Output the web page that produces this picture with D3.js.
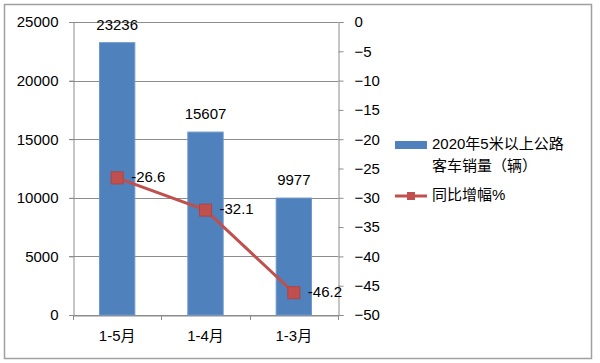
<!DOCTYPE html>
<html><head><meta charset="utf-8">
<script src="https://cdn.jsdelivr.net/npm/d3@7"></script>
<style>
html,body{margin:0;padding:0;background:#fff;}
text{font-family:"Liberation Sans","Noto Sans CJK SC",sans-serif;fill:#000;}
</style>
</head><body>
<svg id="chart" width="600" height="363"></svg>
<script>
const categories = ["1-5月", "1-4月", "1-3月"];
const sales = [23236, 15607, 9977];
const growth = [-26.6, -32.1, -46.2];
const leftTicks = [0, 5000, 10000, 15000, 20000, 25000];
const rightTicks = [0, -5, -10, -15, -20, -25, -30, -35, -40, -45, -50];
const seriesNames = ["2020年5米以上公路", "客车销量（辆）", "同比增幅%"];

const svg = d3.select("#chart");
const L = 73, R = 338, T = 22, B = 315;
const fs = 15;

svg.append("rect").attr("x", 4.5).attr("y", 4.5).attr("width", 587).attr("height", 354)
  .attr("fill", "#fff").attr("stroke", "#a0a0a0").attr("stroke-width", 1.5);

const x = d3.scaleBand().domain(categories).range([L, R]).paddingInner(0.6).paddingOuter(0.3);
const xb = d3.scaleBand().domain(categories).range([L, R]);
const yL = d3.scaleLinear().domain([0, 25000]).range([B, T]);
const yR = d3.scaleLinear().domain([-50, 0]).range([B, T]);

// gridlines
svg.append("g").selectAll("line").data(leftTicks).join("line")
  .attr("x1", L - 4).attr("x2", R).attr("y1", d => Math.round(yL(d)) + 0.5).attr("y2", d => Math.round(yL(d)) + 0.5)
  .attr("stroke", "#8c8c8c").attr("stroke-width", 1);

// left axis
const gL = svg.append("g").attr("transform", `translate(${L + 0.5},0)`)
  .call(d3.axisLeft(yL).tickValues(leftTicks).tickFormat(d3.format("d")).tickSize(4).tickPadding(11));
gL.select(".domain").attr("stroke", "#8c8c8c");
gL.selectAll(".tick line").attr("stroke", "#8c8c8c");
gL.selectAll("text").attr("font-size", fs).attr("font-family", "Liberation Sans").attr("fill", "#000");

// right axis
const gR = svg.append("g").attr("transform", `translate(${R + 0.5},0)`)
  .call(d3.axisRight(yR).tickValues(rightTicks).tickFormat(d3.format("d")).tickSize(5).tickPadding(11));
gR.select(".domain").attr("stroke", "#8c8c8c");
gR.selectAll(".tick line").attr("stroke", "#8c8c8c");
gR.selectAll("text").attr("font-size", fs).attr("font-family", "Liberation Sans").attr("fill", "#000");

// bottom axis
const gB = svg.append("g").attr("transform", `translate(0,${B + 0.5})`)
  .call(d3.axisBottom(xb).tickSize(0).tickPadding(15));
gB.select(".domain").attr("stroke", "#8c8c8c");
gB.selectAll("text").attr("font-size", fs).attr("fill", "#000");
const bounds = [0, 1, 2, 3];
svg.append("g").selectAll("line").data(bounds).join("line")
  .attr("x1", i => Math.round(L + i * xb.step()) + 0.5).attr("x2", i => Math.round(L + i * xb.step()) + 0.5)
  .attr("y1", B).attr("y2", B + 5).attr("stroke", "#8c8c8c");

// bars
svg.append("g").selectAll("rect").data(sales).join("rect")
  .attr("x", (d, i) => x(categories[i])).attr("width", x.bandwidth())
  .attr("y", d => yL(d)).attr("height", d => B - yL(d))
  .attr("fill", "#4F81BD").attr("stroke", "#6f97c9").attr("stroke-width", 1);

svg.append("g").selectAll("text").data(sales).join("text")
  .attr("x", (d, i) => x(categories[i]) + x.bandwidth() / 2).attr("y", d => yL(d) - 17)
  .attr("text-anchor", "middle").attr("dominant-baseline", "middle").attr("font-size", fs)
  .text(d => d);

// line
const cx = i => xb(categories[i]) + xb.bandwidth() / 2;
const line = d3.line().x((d, i) => cx(i)).y(d => yR(d));
svg.append("path").datum(growth).attr("d", line).attr("fill", "none")
  .attr("stroke", "#C0504D").attr("stroke-width", 3);
svg.append("g").selectAll("rect").data(growth).join("rect")
  .attr("x", (d, i) => cx(i) - 6).attr("y", d => yR(d) - 6).attr("width", 12).attr("height", 12)
  .attr("fill", "#C0504D").attr("stroke", "#b04441");
svg.append("g").selectAll("text").data(growth).join("text")
  .attr("x", (d, i) => cx(i) + 14).attr("y", d => yR(d))
  .attr("dominant-baseline", "middle").attr("font-size", fs)
  .text(d => d);

// legend
const lg = svg.append("g");
lg.append("rect").attr("x", 395).attr("y", 141).attr("width", 32).attr("height", 8).attr("fill", "#4F81BD");
lg.append("text").attr("x", 432).attr("y", 145).attr("dominant-baseline", "middle").attr("font-size", 15).text(seriesNames[0]);
lg.append("text").attr("x", 432).attr("y", 167).attr("dominant-baseline", "middle").attr("font-size", 15).text(seriesNames[1]);
lg.append("line").attr("x1", 395).attr("x2", 427).attr("y1", 196).attr("y2", 196).attr("stroke", "#C0504D").attr("stroke-width", 3);
lg.append("rect").attr("x", 407).attr("y", 192).attr("width", 8).attr("height", 8).attr("fill", "#C0504D");
lg.append("text").attr("x", 432).attr("y", 196).attr("dominant-baseline", "middle").attr("font-size", 15).text(seriesNames[2]);
</script>
</body></html>
